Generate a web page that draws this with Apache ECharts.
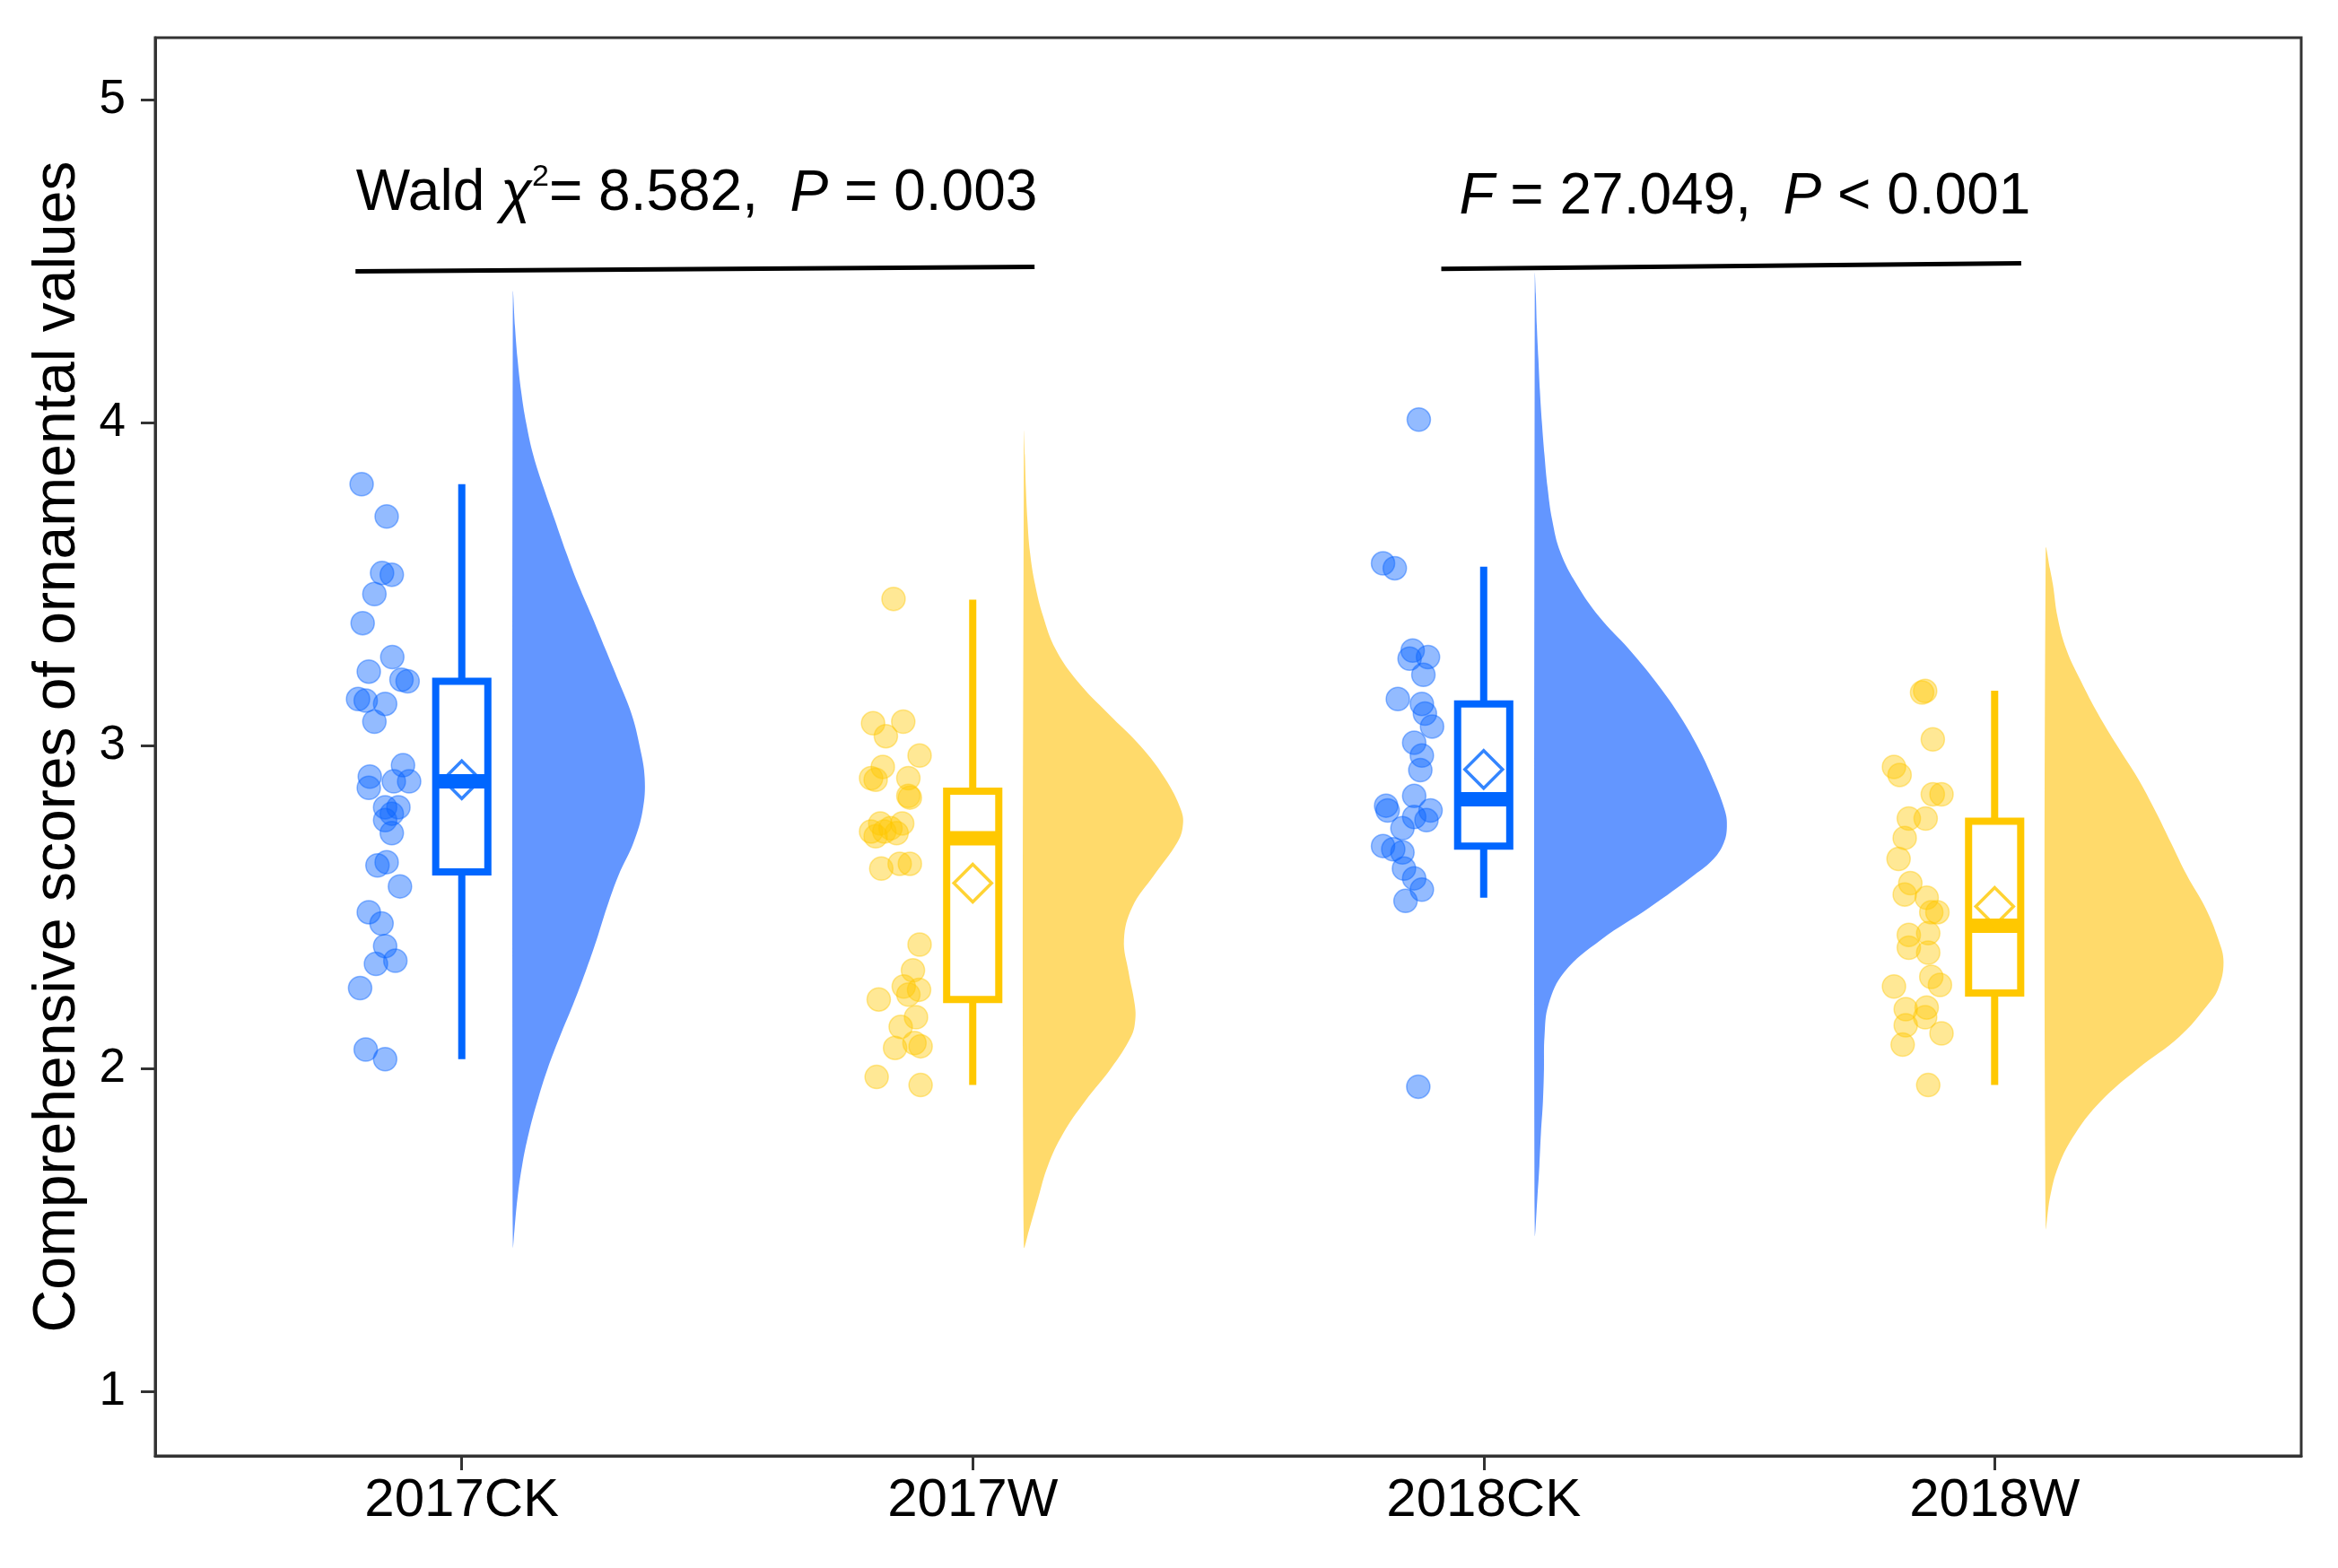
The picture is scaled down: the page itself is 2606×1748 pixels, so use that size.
<!DOCTYPE html>
<html><head><meta charset="utf-8">
<script src="https://cdn.jsdelivr.net/npm/echarts@6/dist/echarts.min.js"></script>
<style>html,body{margin:0;padding:0;background:#fff}#c{width:2606px;height:1748px}</style>
</head><body><div id="c"></div>
<script>
// ---------------- data ----------------
const categories = ['2017CK', '2017W', '2018CK', '2018W'];
const yTicks = [1, 2, 3, 4, 5];
const yTitle = 'Comprehensive scores of ornamental values';

// raw points (score) and horizontal jitter offsets
const ck2017Values = [3.81,3.71,3.535,3.53,3.47,3.38,3.275,3.23,3.205,3.20,3.145,3.14,3.13,3.075,2.94,2.905,2.87,2.89,2.89,2.81,2.81,2.79,2.77,2.73,2.63,2.64,2.565,2.485,2.45,2.38,2.335,2.325,2.25,2.06,2.03];
const ck2017Jitter = [-0.196,-0.147,-0.156,-0.137,-0.171,-0.194,-0.136,-0.182,-0.118,-0.106,-0.203,-0.188,-0.150,-0.171,-0.115,-0.180,-0.182,-0.133,-0.103,-0.150,-0.124,-0.137,-0.150,-0.137,-0.165,-0.147,-0.121,-0.182,-0.157,-0.150,-0.130,-0.168,-0.199,-0.188,-0.150];
const w2017Values = [3.455,3.07,3.075,3.03,2.97,2.935,2.90,2.895,2.90,2.845,2.84,2.76,2.76,2.735,2.735,2.73,2.72,2.745,2.62,2.635,2.635,2.385,2.305,2.215,2.255,2.245,2.23,2.16,2.13,2.065,2.07,2.08,1.975,1.95];
const w2017Jitter = [-0.155,-0.195,-0.136,-0.170,-0.104,-0.176,-0.199,-0.190,-0.126,-0.126,-0.123,-0.181,-0.138,-0.199,-0.173,-0.149,-0.190,-0.161,-0.179,-0.143,-0.123,-0.104,-0.117,-0.184,-0.135,-0.105,-0.126,-0.111,-0.141,-0.152,-0.102,-0.114,-0.188,-0.102];
const ck2018Values = [4.01,3.565,3.55,3.295,3.275,3.27,3.22,3.145,3.13,3.10,3.06,3.01,2.97,2.925,2.845,2.815,2.80,2.80,2.78,2.77,2.745,2.69,2.68,2.67,2.62,2.59,2.555,2.52,1.945];
const ck2018Jitter = [-0.127,-0.197,-0.174,-0.139,-0.109,-0.145,-0.118,-0.168,-0.121,-0.115,-0.101,-0.136,-0.121,-0.124,-0.136,-0.191,-0.188,-0.104,-0.136,-0.112,-0.159,-0.197,-0.177,-0.159,-0.156,-0.136,-0.121,-0.153,-0.128];
const w2018Values = [3.17,3.165,3.02,2.935,2.91,2.85,2.85,2.775,2.775,2.715,2.65,2.575,2.54,2.53,2.485,2.485,2.415,2.375,2.42,2.36,2.285,2.26,2.255,2.185,2.19,2.16,2.135,2.11,2.075,1.95];
const w2018Jitter = [-0.136,-0.142,-0.121,-0.197,-0.186,-0.121,-0.104,-0.168,-0.135,-0.176,-0.188,-0.165,-0.176,-0.133,-0.124,-0.112,-0.168,-0.168,-0.130,-0.130,-0.124,-0.107,-0.197,-0.174,-0.133,-0.136,-0.174,-0.104,-0.180,-0.130];

// box statistics
const boxMin    = [2.03, 1.95, 2.53, 1.95];
const boxQ1     = [2.61, 2.215, 2.69, 2.235];
const boxMedian = [2.89, 2.714, 2.835, 2.443];
const boxQ3     = [3.20, 2.86, 3.13, 2.767];
const boxMax    = [3.81, 3.453, 3.555, 3.171];
const groupMeans = [2.895, 2.575, 2.927, 2.503];

// half-violin outlines: [score, density width in category units]
const violin2017CK = [[4.40,0],[4.30,0.004],[4.20,0.009],[4.10,0.016],[4.00,0.026],[3.90,0.040],[3.80,0.060],[3.70,0.082],[3.60,0.104],[3.50,0.128],[3.40,0.155],[3.30,0.181],[3.20,0.207],[3.10,0.232],[3.00,0.248],[2.90,0.258],[2.80,0.254],[2.70,0.236],[2.60,0.207],[2.50,0.184],[2.40,0.164],[2.30,0.142],[2.20,0.118],[2.10,0.092],[2.00,0.068],[1.90,0.048],[1.80,0.031],[1.70,0.018],[1.60,0.009],[1.50,0.003],[1.45,0]];
const violin2017W  = [[3.97,0],[3.90,0.002],[3.80,0.004],[3.70,0.007],[3.60,0.012],[3.50,0.022],[3.40,0.038],[3.30,0.062],[3.20,0.105],[3.10,0.165],[3.00,0.228],[2.90,0.276],[2.80,0.308],[2.75,0.311],[2.70,0.300],[2.60,0.255],[2.50,0.212],[2.40,0.196],[2.30,0.205],[2.20,0.217],[2.15,0.218],[2.10,0.210],[2.00,0.170],[1.90,0.120],[1.80,0.077],[1.70,0.047],[1.60,0.028],[1.50,0.010],[1.45,0]];
const violin2018CK = [[4.46,0],[4.40,0.002],[4.30,0.004],[4.20,0.007],[4.10,0.010],[4.00,0.014],[3.90,0.019],[3.80,0.025],[3.70,0.034],[3.60,0.050],[3.50,0.082],[3.40,0.126],[3.30,0.184],[3.20,0.236],[3.10,0.281],[3.00,0.318],[2.90,0.348],[2.80,0.372],[2.75,0.376],[2.70,0.370],[2.65,0.350],[2.60,0.312],[2.50,0.225],[2.40,0.130],[2.30,0.058],[2.20,0.027],[2.10,0.019],[2.00,0.018],[1.90,0.016],[1.80,0.012],[1.70,0.009],[1.60,0.005],[1.49,0]];
const violin2018W  = [[3.61,0],[3.55,0.008],[3.50,0.014],[3.40,0.023],[3.30,0.040],[3.20,0.069],[3.10,0.102],[3.00,0.140],[2.90,0.180],[2.80,0.214],[2.70,0.245],[2.60,0.276],[2.50,0.312],[2.40,0.338],[2.33,0.348],[2.25,0.338],[2.20,0.318],[2.10,0.262],[2.00,0.180],[1.90,0.108],[1.80,0.058],[1.70,0.025],[1.60,0.008],[1.51,0]];

// significance annotations
const annotTexts = ['{n|Wald }{i|χ}{s|2}{n|= 8.582,  }{i|P}{n| = 0.003}', '{i|F}{n| = 27.049,  }{i|P}{n| < 0.001}'];
const annotAnchors = [[-0.207, 4.707], [1.952, 4.697]];
const bracket1 = [[-0.208, 4.469], [1.121, 4.483]];
const bracket2 = [[1.917, 4.477], [3.052, 4.494]];

// ---------------- styling / layout ----------------
const FONT = "'Liberation Sans', Arial, Helvetica, sans-serif";
const BLUE = '#0066ff', BLUE_FILL = '#6396ff', BLUE_PT = 'rgba(10,100,255,0.55)';
const YEL = '#ffc800', YEL_FILL = '#ffda6b', YEL_PT = 'rgba(255,200,0,0.52)';
const groupTone = ['blue', 'yellow', 'blue', 'yellow'];
const lineCol = groupTone.map(c => c === 'blue' ? BLUE : YEL);
const fillCol = groupTone.map(c => c === 'blue' ? BLUE_FILL : YEL_FILL);
const VIOLIN_OFFSET = 0.1;
const BOX_HALF = 0.051;

const violins = [violin2017CK, violin2017W, violin2018CK, violin2018W];
const pointSets = [[ck2017Values, ck2017Jitter], [w2017Values, w2017Jitter], [ck2018Values, ck2018Jitter], [w2018Values, w2018Jitter]];

function pointsFor(idxList) {
  const out = [];
  idxList.forEach(i => {
    const [vals, jit] = pointSets[i];
    vals.forEach((v, k) => out.push([i + jit[k], v]));
  });
  return out;
}

const chart = echarts.init(document.getElementById('c'), null, { renderer: 'canvas' });

const option = {
  animation: false,
  backgroundColor: '#fff',
  textStyle: { fontFamily: FONT },
  grid: { left: 173, right: 41, top: 42, bottom: 125, show: true, borderColor: '#333', borderWidth: 3, backgroundColor: 'transparent', containLabel: false, outerBoundsMode: 'none' },
  xAxis: {
    type: 'value', min: -0.6, max: 3.6,
    axisLine: { show: true, onZero: false, lineStyle: { color: '#333', width: 3 } },
    axisTick: { show: true, customValues: [0, 1, 2, 3], length: 16, lineStyle: { color: '#333', width: 3 } },
    axisLabel: { customValues: [0, 1, 2, 3], formatter: v => categories[Math.round(v)], fontSize: 60, color: '#000', margin: 20, fontFamily: FONT },
    splitLine: { show: false }
  },
  yAxis: {
    type: 'value', min: 0.802, max: 5.1925,
    name: yTitle, nameLocation: 'middle', nameRotate: 90, nameGap: 75,
    nameTextStyle: { fontSize: 66, color: '#000', fontFamily: FONT },
    axisLine: { show: true, onZero: false, lineStyle: { color: '#333', width: 3 } },
    axisTick: { show: true, customValues: yTicks, length: 16, lineStyle: { color: '#333', width: 3 } },
    axisLabel: { customValues: yTicks, fontSize: 53, color: '#000', margin: 33, fontFamily: FONT },
    splitLine: { show: false }
  },
  series: [
    {
      type: 'custom', name: 'violin', clip: false,
      data: categories.map((c, i) => [i, 3]),
      encode: { x: 0, y: 1 },
      renderItem: function (params, api) {
        const gi = api.value(0);
        const base = gi + VIOLIN_OFFSET;
        const pts = violins[gi].map(([v, w]) => api.coord([base + w, v]));
        return { type: 'polygon', shape: { points: pts, smooth: 0.4 }, style: { fill: fillCol[gi], stroke: null } };
      }
    },
    {
      type: 'custom', name: 'box', clip: false,
      data: categories.map((c, i) => [i, boxMin[i], boxQ1[i], boxMedian[i], boxQ3[i], boxMax[i]]),
      encode: { x: 0, y: [1, 2, 3, 4, 5] },
      renderItem: function (params, api) {
        const x = api.value(0);
        const col = lineCol[x];
        const mn = api.coord([x, api.value(1)]);
        const q1 = api.coord([x, api.value(2)]);
        const md = api.coord([x, api.value(3)]);
        const q3 = api.coord([x, api.value(4)]);
        const mx = api.coord([x, api.value(5)]);
        const left = api.coord([x - BOX_HALF, 0])[0];
        const right = api.coord([x + BOX_HALF, 0])[0];
        return {
          type: 'group',
          children: [
            { type: 'line', shape: { x1: mx[0], y1: mx[1], x2: q3[0], y2: q3[1] }, style: { stroke: col, lineWidth: 8, lineCap: 'butt' } },
            { type: 'line', shape: { x1: q1[0], y1: q1[1], x2: mn[0], y2: mn[1] }, style: { stroke: col, lineWidth: 8, lineCap: 'butt' } },
            { type: 'rect', shape: { x: left, y: q3[1], width: right - left, height: q1[1] - q3[1] }, style: { fill: '#fff', stroke: col, lineWidth: 8 } },
            { type: 'line', shape: { x1: left, y1: md[1], x2: right, y2: md[1] }, style: { stroke: col, lineWidth: 16, lineCap: 'butt' } }
          ]
        };
      }
    },
    {
      type: 'scatter', name: 'pts-blue', symbol: 'circle', symbolSize: 26,
      itemStyle: { color: BLUE_PT, borderColor: BLUE_PT, borderWidth: 1.5 },
      data: pointsFor([0, 2])
    },
    {
      type: 'scatter', name: 'pts-yellow', symbol: 'circle', symbolSize: 26,
      itemStyle: { color: YEL_PT, borderColor: YEL_PT, borderWidth: 1.5 },
      data: pointsFor([1, 3])
    },
    {
      type: 'scatter', name: 'mean', symbol: 'diamond', symbolSize: [42, 42],
      data: groupMeans.map((m, i) => ({ value: [i, m], itemStyle: { color: 'rgba(0,0,0,0)', borderColor: lineCol[i], borderWidth: 3.5 } }))
    },
    {
      type: 'line', name: 'bracket1', data: bracket1, symbol: 'none', lineStyle: { color: '#000', width: 5 }, silent: true
    },
    {
      type: 'line', name: 'bracket2', data: bracket2, symbol: 'none', lineStyle: { color: '#000', width: 5 }, silent: true
    },
    {
      type: 'scatter', name: 'annot', symbolSize: 0, silent: true,
      itemStyle: { color: '#000', opacity: 1 },
      data: annotAnchors.map((a, i) => ({
        value: a,
        label: {
          show: true, position: 'right', distance: 0, formatter: annotTexts[i],
          color: '#000', opacity: 1, textBorderWidth: 0,
          rich: {
            n: { fontSize: 64, color: '#000', fontFamily: FONT, lineHeight: 72 },
            i: { fontSize: 64, color: '#000', fontFamily: FONT, fontStyle: 'italic', lineHeight: 72 },
            s: { fontSize: 34, color: '#000', fontFamily: FONT, verticalAlign: 'top', lineHeight: 34 }
          }
        }
      }))
    }
  ]
};
chart.setOption(option);
</script></body></html>
